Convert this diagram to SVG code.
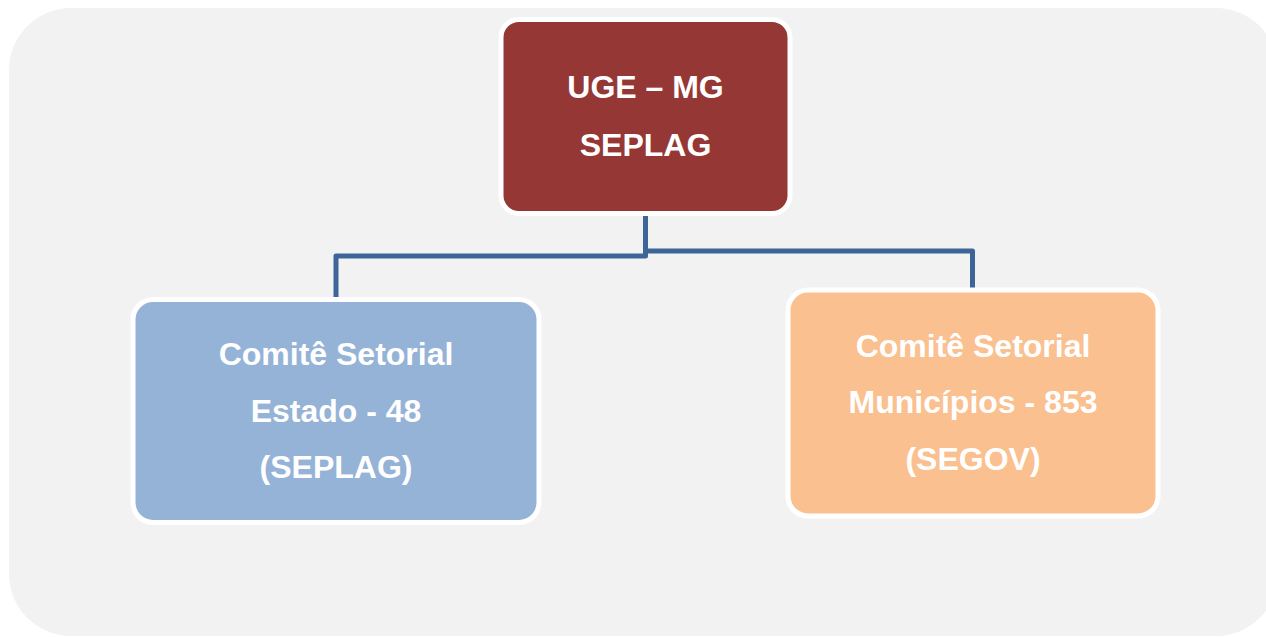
<svg xmlns="http://www.w3.org/2000/svg" width="1266" height="637" viewBox="0 0 1266 637">
<style>
.box{stroke:#ffffff;stroke-width:5}
.lbl{font-family:"Liberation Sans",Arial,sans-serif;font-weight:bold;font-size:32px;fill:#ffffff;text-anchor:middle}
.conn{fill:none;stroke:#3e6598;stroke-width:5;stroke-linejoin:round}
</style>
<rect x="0" y="0" width="1266" height="637" fill="#ffffff"/>
<rect id="background" x="9" y="8" width="1269" height="628" rx="62" ry="62" fill="#f2f2f2"/>
<g id="connectors">
<path class="conn" d="M645.5 213 V256 H336 V299"/>
<path class="conn" d="M645.5 251 H972.5 V290"/>
</g>
<g id="node-uge">
<rect class="box" x="501" y="19.5" width="289" height="194" rx="18" fill="#953735"/>
<text class="lbl" x="645.5" y="98">UGE – MG</text>
<text class="lbl" x="645.5" y="156">SEPLAG</text>
</g>
<g id="node-estado">
<rect class="box" x="133" y="299.5" width="406" height="223" rx="20" fill="#95b3d7"/>
<text class="lbl" x="336" y="365">Comitê Setorial</text>
<text class="lbl" x="336" y="422">Estado - 48</text>
<text class="lbl" x="336" y="478">(SEPLAG)</text>
</g>
<g id="node-municipios">
<rect class="box" x="788" y="290" width="370" height="226" rx="20" fill="#fac090"/>
<text class="lbl" x="973" y="357">Comitê Setorial</text>
<text class="lbl" x="973" y="413">Municípios - 853</text>
<text class="lbl" x="973" y="470">(SEGOV)</text>
</g>
</svg>
